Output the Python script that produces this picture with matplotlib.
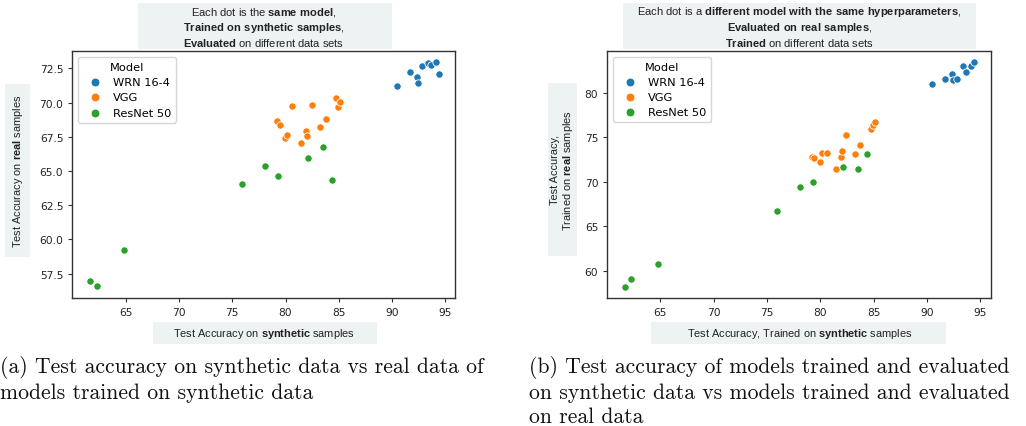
import matplotlib
matplotlib.use('Agg')
import matplotlib.pyplot as plt
import matplotlib.ticker as mticker
from matplotlib.patches import Rectangle
import numpy as np

plt.rcParams['mathtext.fontset'] = 'custom'
plt.rcParams['mathtext.rm'] = 'Liberation Sans'
plt.rcParams['mathtext.bf'] = 'Liberation Sans:bold'

models = ['WRN 16-4', 'VGG', 'ResNet 50']
colors = ['#1f77b4', '#ff7f0e', '#2ca02c']

# test accuracy on synthetic samples (x of both panels)
wrn_syn = [90.5, 91.7, 92.3, 92.4, 92.8, 93.4, 93.65, 94.15, 94.35]
vgg_syn = [79.2, 79.45, 79.95, 80.15, 80.65, 81.45, 81.9, 82.05, 82.45, 83.25, 83.75, 84.7, 84.9, 85.1]
res_syn = [61.7, 62.3, 64.8, 75.95, 78.1, 79.3, 82.15, 83.55, 84.35]

# (a) same model evaluated on real samples
wrn_real_a = [71.2, 72.2, 71.86, 71.4, 72.65, 72.9, 72.74, 72.94, 72.08]
vgg_real_a = [68.68, 68.36, 67.43, 67.65, 69.77, 67.03, 67.95, 67.56, 69.82, 68.24, 68.82, 70.31, 69.68, 70.04]
res_real_a = [56.94, 56.6, 59.26, 64.03, 65.37, 64.62, 65.97, 66.75, 64.32]

# (b) model trained and evaluated on real samples
wrn_real_b = [80.98, 81.54, 82.17, 81.46, 81.6, 83.04, 82.3, 83.0, 83.45]
vgg_real_b = [72.8, 72.65, 72.2, 73.25, 73.25, 71.41, 72.77, 73.48, 75.28, 73.17, 74.1, 75.9, 76.4, 76.7]
res_real_b = [58.17, 59.07, 60.76, 66.76, 69.43, 69.99, 71.71, 71.41, 73.14]

titles = [
    'Each dot is the $\\mathbf{same\\ model}$,\n'
    '$\\mathbf{Trained\\ on\\ synthetic\\ samples}$,\n'
    '$\\mathbf{Evaluated}$ on different data sets',
    'Each dot is a $\\mathbf{different\\ model\\ with\\ the\\ same\\ hyperparameters}$,\n'
    '$\\mathbf{Evaluated\\ on\\ real\\ samples}$,\n'
    '$\\mathbf{Trained}$ on different data sets',
]
xlabels = ['Test Accuracy on $\\mathbf{synthetic}$ samples',
           'Test Accuracy, Trained on $\\mathbf{synthetic}$ samples']
ylabels = ['Test Accuracy on $\\mathbf{real}$ samples',
           'Test Accuracy,\nTrained on $\\mathbf{real}$ samples']
captions = ['(a) Test accuracy on synthetic data vs real data of\nmodels trained on synthetic data',
            '(b) Test accuracy of models trained and evaluated\non synthetic data vs models trained and evaluated\non real data']

box_col = '#edf3f3'
txt_col = '#222222'
lab_font = 'Liberation Sans'

fig = plt.figure(figsize=(10.26, 4.27), dpi=100)
ax1 = fig.add_axes([0.0705, 0.3005, 0.373, 0.577])
ax2 = fig.add_axes([0.592, 0.3, 0.374, 0.578])

def draw(ax, ys, title, xlab, ylab, tbox, xbox, ybox, ylab_x):
    for xs, y, name, c in zip([wrn_syn, vgg_syn, res_syn], ys, models, colors):
        ax.scatter(xs, y, s=28, color=c, edgecolor='white', linewidth=0.6, label=name, zorder=3)
    for s in ax.spines.values():
        s.set_color('#333333')
        s.set_linewidth(1.0)
    ax.tick_params(labelsize=7.7, length=3, width=0.8, colors='#333333', labelcolor='#222222')
    ax.xaxis.set_major_locator(mticker.FixedLocator(np.arange(65, 96, 5)))
    ax.legend(title='Model', loc='upper left', fontsize=8.2, title_fontsize=8.2,
              markerscale=1.2, borderpad=0.45, labelspacing=0.45, handlelength=2.0,
              handletextpad=0.6, fancybox=True, framealpha=0.8, edgecolor='#cccccc')
    # title box
    ax.add_patch(Rectangle((tbox[0], 1.009), tbox[1] - tbox[0], 0.187, transform=ax.transAxes,
                           facecolor=box_col, edgecolor='none', clip_on=False))
    ax.text(0.5, 1.100, title, transform=ax.transAxes, ha='center', va='center',
            fontsize=8, family=lab_font, color=txt_col, linespacing=1.2)
    # xlabel box
    ax.add_patch(Rectangle((xbox[0], -0.188), xbox[1] - xbox[0], 0.09, transform=ax.transAxes,
                           facecolor=box_col, edgecolor='none', clip_on=False))
    ax.text(0.5, -0.143, xlab, transform=ax.transAxes, ha='center', va='center',
            fontsize=7.9, family=lab_font, color=txt_col)
    # ylabel box
    ax.add_patch(Rectangle((ybox[0], ybox[2]), ybox[1] - ybox[0], ybox[3] - ybox[2],
                           transform=ax.transAxes, facecolor=box_col, edgecolor='none', clip_on=False))
    ax.text(ylab_x, (ybox[2] + ybox[3]) / 2, ylab, transform=ax.transAxes, ha='center', va='center',
            rotation=90, fontsize=7.9, family=lab_font, color=txt_col, linespacing=1.1)

draw(ax1, [wrn_real_a, vgg_real_a, res_real_a], titles[0], xlabels[0], ylabels[0],
     (0.172, 0.835), (0.211, 0.796), (-0.176, -0.1105, 0.165, 0.867), -0.1425)
ax1.set_xlim(60.0, 95.9)
ax1.set_ylim(55.75, 73.74)
ax1.yaxis.set_major_locator(mticker.FixedLocator(np.arange(57.5, 73, 2.5)))
ax1.yaxis.set_major_formatter(mticker.FormatStrFormatter('%.1f'))

draw(ax2, [wrn_real_b, vgg_real_b, res_real_b], titles[1], xlabels[1], ylabels[1],
     (0.04, 0.96), (0.114, 0.883), (-0.1545, -0.079, 0.170, 0.871), -0.1168)
ax2.set_xlim(60.05, 96.0)
ax2.set_ylim(56.96, 84.69)
ax2.yaxis.set_major_locator(mticker.FixedLocator(np.arange(60, 81, 5)))

fig.text(0.0, 0.166, captions[0], ha='left', va='top', fontsize=15.6, family='cmr10',
         color='#111111', linespacing=1.28)
fig.text(0.516, 0.166, captions[1], ha='left', va='top', fontsize=15.6, family='cmr10',
         color='#111111', linespacing=1.28)

fig.savefig('out.png', dpi=100)
